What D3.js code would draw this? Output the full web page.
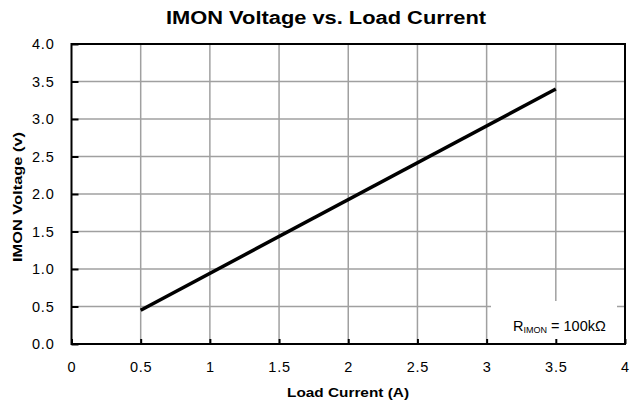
<!DOCTYPE html>
<html>
<head>
<meta charset="utf-8">
<script src="https://cdn.jsdelivr.net/npm/d3@7"></script>
<style>
  body { margin: 0; background: #fff; }
  text { font-family: "Liberation Sans", Arial, sans-serif; }
</style>
</head>
<body>
<script>
// data
var loadCurrent = [0.5, 3.5]
var imonVoltage = [0.45, 3.40]
var xTicks = [0, 0.5, 1, 1.5, 2, 2.5, 3, 3.5, 4]
var yTicks = [0, 0.5, 1, 1.5, 2, 2.5, 3, 3.5, 4]
var xTickLabels = ["0", "0.5", "1", "1.5", "2", "2.5", "3", "3.5", "4"]
var yTickLabels = ["0.0", "0.5", "1.0", "1.5", "2.0", "2.5", "3.0", "3.5", "4.0"]

var width = 634, height = 402
var plotL = 71.5, plotR = 625, plotT = 44, plotB = 344

var svg = d3.select("body").append("svg")
	.attr("width", width)
	.attr("height", height)

var x = d3.scaleLinear().domain([0, 4]).range([plotL, plotR])
var y = d3.scaleLinear().domain([0, 4]).range([plotB, plotT])

// grid
svg.append("g").selectAll("line").data(xTicks.slice(1, -1)).enter().append("line")
	.attr("x1", d => x(d)).attr("x2", d => x(d))
	.attr("y1", plotT).attr("y2", plotB)
	.attr("stroke", "#a0a0a0").attr("stroke-width", 1.5)
svg.append("g").selectAll("line").data(yTicks.slice(1, -1)).enter().append("line")
	.attr("x1", plotL).attr("x2", plotR)
	.attr("y1", d => y(d)).attr("y2", d => y(d))
	.attr("stroke", "#a0a0a0").attr("stroke-width", 1.5)

// annotation box covers grid
svg.append("rect")
	.attr("x", 491).attr("y", 301)
	.attr("width", 126).attr("height", plotB - 301)
	.attr("fill", "#fff")

// axes with inner ticks
svg.append("g").attr("transform", "translate(0," + plotB + ")")
	.call(d3.axisBottom(x).tickValues(xTicks).tickSize(-5).tickPadding(18)
		.tickFormat((d, i) => xTickLabels[i]))
svg.append("g").attr("transform", "translate(" + plotL + ",0)")
	.call(d3.axisLeft(y).tickValues(yTicks).tickSize(-7).tickPadding(17)
		.tickFormat((d, i) => yTickLabels[i]))
svg.selectAll(".domain").remove()
svg.selectAll(".tick line").attr("stroke", "#000").attr("stroke-width", 2)
svg.selectAll(".tick text").attr("font-size", 14.5).attr("fill", "#000")
	.attr("letter-spacing", 0.8)
	.style("font-family", "'Liberation Sans', Arial, sans-serif")

// frame
svg.append("rect")
	.attr("x", plotL).attr("y", plotT)
	.attr("width", plotR - plotL).attr("height", plotB - plotT)
	.attr("fill", "none").attr("stroke", "#000").attr("stroke-width", 2)

// series
var pts = loadCurrent.map((d, i) => [d, imonVoltage[i]])
svg.append("path")
	.datum(pts)
	.attr("d", d3.line().x(d => x(d[0])).y(d => y(d[1])))
	.attr("fill", "none").attr("stroke", "#000").attr("stroke-width", 3.5)

// note
var note = svg.append("text").attr("x", 513).attr("y", 331).attr("font-size", 14.5)
note.append("tspan").text("R")
note.append("tspan").attr("font-size", 9).attr("dy", 2).text("IMON")
note.append("tspan").attr("dy", -2).text(" = 100kΩ")

// titles
svg.append("text")
	.attr("x", 166).attr("y", 24)
	.attr("font-size", 18).attr("font-weight", "bold")
	.attr("textLength", 320).attr("lengthAdjust", "spacingAndGlyphs")
	.text("IMON Voltage vs. Load Current")

svg.append("text")
	.attr("x", 287).attr("y", 397)
	.attr("font-size", 13.5).attr("font-weight", "bold")
	.attr("textLength", 122).attr("lengthAdjust", "spacingAndGlyphs")
	.text("Load Current (A)")

svg.append("text")
	.attr("transform", "translate(22,262) rotate(-90)")
	.attr("font-size", 13.5).attr("font-weight", "bold")
	.attr("textLength", 130).attr("lengthAdjust", "spacingAndGlyphs")
	.text("IMON Voltage (v)")
</script>
</body>
</html>
